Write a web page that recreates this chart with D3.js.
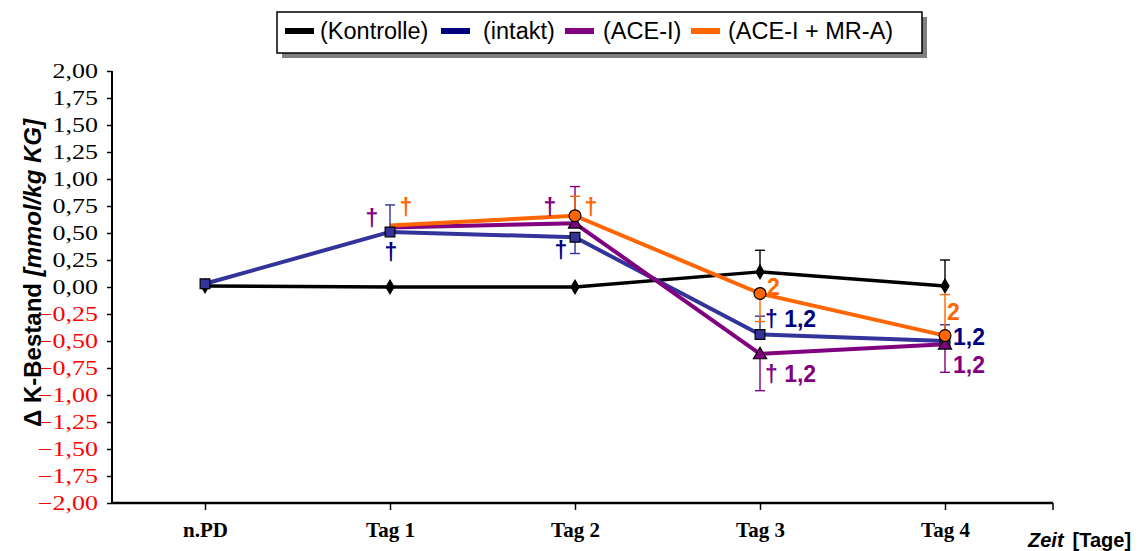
<!DOCTYPE html>
<html>
<head>
<meta charset="utf-8">
<script src="https://cdn.jsdelivr.net/npm/d3@7"></script>
<style>
  html, body { margin: 0; padding: 0; background: #fff; }
  svg { display: block; }
</style>
</head>
<body>
<svg id="chart" width="1144" height="551"></svg>
<script>
// ---------- DATA ----------
const categories = ["n.PD", "Tag 1", "Tag 2", "Tag 3", "Tag 4"];
const seriesNames = ["(Kontrolle)", "(intakt)", "(ACE-I)", "(ACE-I + MR-A)"];
const kontrolle = [0.01, 0.00, 0.00, 0.14, 0.01];
const intakt    = [0.03, 0.51, 0.46, -0.44, -0.50];
const aceI      = [null, 0.55, 0.59, -0.62, -0.53];
const aceMRA    = [null, 0.57, 0.66, -0.06, -0.45];
// error bars (one-sided SD)
const kontrolleErrUp   = [null, null, null, 0.20, 0.24];
const kontrolleErrDown = [null, null, null, null, null];
const intaktErrUp      = [null, 0.25, null, 0.17, 0.15];
const intaktErrDown    = [null, null, 0.15, null, null];
const aceIErrUp        = [null, null, 0.34, null, null];
const aceIErrDown      = [null, null, null, 0.34, 0.26];
const aceMRAErrUp      = [null, null, 0.18, null, 0.38];
const aceMRAErrDown    = [null, null, null, 0.26, null];
const yTicks = d3.range(-2, 2.0001, 0.25);
// significance annotations: [category, series index, text]
const annotations = [
  ["Tag 1", 2, "†"], ["Tag 1", 3, "†"], ["Tag 1", 1, "†"],
  ["Tag 2", 2, "†"], ["Tag 2", 3, "†"], ["Tag 2", 1, "†"],
  ["Tag 3", 3, "2"], ["Tag 3", 1, "† 1,2"], ["Tag 3", 2, "† 1,2"],
  ["Tag 4", 3, "2"], ["Tag 4", 1, "1,2"], ["Tag 4", 2, "1,2"]
];
const xTitleItalic = "Zeit";
const xTitleRest = "[Tage]";
const yTitleMain = "\u0394 K-Bestand ";
const yTitleItalic = "[mmol/kg KG]";

// ---------- STYLE / LAYOUT ----------
const values = [kontrolle, intakt, aceI, aceMRA];
const errUp = [kontrolleErrUp, intaktErrUp, aceIErrUp, aceMRAErrUp];
const errDown = [kontrolleErrDown, intaktErrDown, aceIErrDown, aceMRAErrDown];
const lineColors = ["#000000", "#333399", "#800080", "#FF6600"];
const legendColors = ["#000000", "#000080", "#800080", "#FF6600"];
const textColors = ["#000000", "#000080", "#800080", "#FF6600"];
const markerTypes = ["diamond", "square", "triangle", "circle"];
const noMarkerAt = { 2: ["Tag 1"], 3: ["Tag 1"] };

const svg = d3.select("#chart");
const axisLeftX = 112, axisRightX = 1053, axisTop = 71, axisBottom = 503;

const x = d3.scalePoint().domain(categories).range([205, 945]);
const y = d3.scaleLinear().domain([-2, 2]).range([axisBottom, axisTop]);
const fmt = v => d3.format(".2f")(Math.abs(v) < 1e-9 ? 0 : v).replace(".", ",");

// Y axis
const yAxis = d3.axisLeft(y).tickValues(yTicks).tickSize(5).tickPadding(9).tickFormat(fmt);
const gy = svg.append("g").attr("transform", `translate(${axisLeftX},0)`).call(yAxis);
gy.select(".domain").attr("stroke", "#000").attr("stroke-width", 2).attr("d", `M0,${axisTop}V${axisBottom}`);
gy.selectAll(".tick line").attr("stroke", "#000").attr("stroke-width", 1.5);
gy.selectAll(".tick text")
  .attr("font-family", "'Liberation Serif', 'Times New Roman', serif")
  .attr("font-size", 20)
  .attr("fill", d => d < -1e-9 ? "#FF0000" : "#000")
  .each(function () {
    const w = this.getComputedTextLength();
    d3.select(this).attr("textLength", w * 1.3).attr("lengthAdjust", "spacingAndGlyphs");
  });

// X axis
const xAxis = d3.axisBottom(x).tickSize(7).tickSizeOuter(0).tickPadding(12);
const gx = svg.append("g").attr("transform", `translate(0,${axisBottom})`).call(xAxis);
gx.select(".domain").attr("stroke", "#000").attr("stroke-width", 2.5).attr("d", `M${axisLeftX},0H${axisRightX}`);
gx.selectAll(".tick line").attr("stroke", "#000").attr("stroke-width", 1.5);
gx.selectAll(".tick text")
  .attr("font-family", "'Liberation Serif', 'Times New Roman', serif")
  .attr("font-weight", "bold")
  .attr("font-size", 21)
  .attr("fill", "#000");
gx.append("line").attr("x1", axisRightX).attr("x2", axisRightX).attr("y1", 0).attr("y2", 7)
  .attr("stroke", "#000").attr("stroke-width", 1.5);

// X title
const xt = svg.append("text").attr("x", 1028).attr("y", 547)
  .attr("font-family", "'Liberation Sans', Arial, sans-serif").attr("font-weight", "bold").attr("font-size", 20);
xt.append("tspan").attr("font-style", "italic").text(xTitleItalic);
xt.append("tspan").attr("dx", 9).text(xTitleRest);

// Y title
const yt = svg.append("text").attr("transform", "translate(41,273) rotate(-90)")
  .attr("text-anchor", "middle")
  .attr("font-family", "'Liberation Sans', Arial, sans-serif").attr("font-weight", "bold").attr("font-size", 24);
yt.append("tspan").text(yTitleMain);
yt.append("tspan").attr("font-style", "italic").text(yTitleItalic);

// Lines
const line = d3.line().defined(d => d.v != null).x(d => x(d.c)).y(d => y(d.v));
values.forEach((vals, si) => {
  const pts = categories.map((c, i) => ({ c, v: vals[i] }));
  svg.append("path").datum(pts).attr("d", line)
    .attr("fill", "none").attr("stroke", lineColors[si])
    .attr("stroke-width", si === 0 ? 3.5 : 4).attr("stroke-linejoin", "round");
});

// Error bars
values.forEach((vals, si) => {
  categories.forEach((c, i) => {
    const v = vals[i];
    if (v == null) return;
    [[errUp[si][i], 1], [errDown[si][i], -1]].forEach(([e, dir]) => {
      if (e == null) return;
      const cx = x(c), y0 = y(v), y1 = y(v + dir * e);
      const g = svg.append("g").attr("stroke", lineColors[si]).attr("stroke-width", 1.4);
      g.append("line").attr("x1", cx).attr("x2", cx).attr("y1", y0).attr("y2", y1);
      g.append("line").attr("x1", cx - 5).attr("x2", cx + 5).attr("y1", y1).attr("y2", y1);
    });
  });
});

// Markers
const symbolMap = { diamond: d3.symbolDiamond, square: d3.symbolSquare, triangle: d3.symbolTriangle, circle: d3.symbolCircle };
const symbolSize = { diamond: 55, square: 95, triangle: 75, circle: 110 };
values.forEach((vals, si) => {
  categories.forEach((c, i) => {
    const v = vals[i];
    if (v == null) return;
    if (noMarkerAt[si] && noMarkerAt[si].includes(c)) return;
    const t = markerTypes[si];
    svg.append("path")
      .attr("d", d3.symbol().type(symbolMap[t]).size(symbolSize[t])())
      .attr("transform", `translate(${x(c)},${y(v) + (t === "triangle" ? 1 : 0)})`)
      .attr("fill", lineColors[si]).attr("stroke", "#000").attr("stroke-width", 1.2);
  });
});

// Annotations (offsets in px relative to the point)
const annotOffsets = [
  [-18, -10, "middle"], [16, -18, "middle"], [1, 20, "middle"],
  [-25, -16, "middle"], [16, -9, "middle"], [-14, 13, "middle"],
  [7, -6, "start"], [5, -16, "start"], [5, 20, "start"],
  [2, -24, "start"], [8, -4, "start"], [8, 21, "start"]
];
annotations.forEach(([c, si, txt], k) => {
  const i = categories.indexOf(c);
  const [dx, dy, anchor] = annotOffsets[k];
  svg.append("text")
    .attr("x", x(c) + dx).attr("y", y(values[si][i]) + dy + 8)
    .attr("text-anchor", anchor)
    .attr("font-family", "'Liberation Sans', Arial, sans-serif").attr("font-weight", "bold")
    .attr("font-size", 23).attr("fill", textColors[si]).text(txt);
});

// Legend
const lg = svg.append("g");
lg.append("rect").attr("x", 282).attr("y", 17).attr("width", 645).attr("height", 41).attr("fill", "#808080");
lg.append("rect").attr("x", 277).attr("y", 12).attr("width", 645).attr("height", 41)
  .attr("fill", "#fff").attr("stroke", "#000").attr("stroke-width", 1.5);
const swatchX = [285, 441, 565, 691];
const textX = [320, 483, 603, 728];
seriesNames.forEach((n, si) => {
  lg.append("rect").attr("x", swatchX[si]).attr("y", 28).attr("width", 29).attr("height", 6).attr("fill", legendColors[si]);
  lg.append("text").attr("x", textX[si]).attr("y", 39)
    .attr("font-family", "'Liberation Sans', Arial, sans-serif").attr("font-size", 23.5).attr("fill", "#000").text(n);
});
</script>
</body>
</html>
